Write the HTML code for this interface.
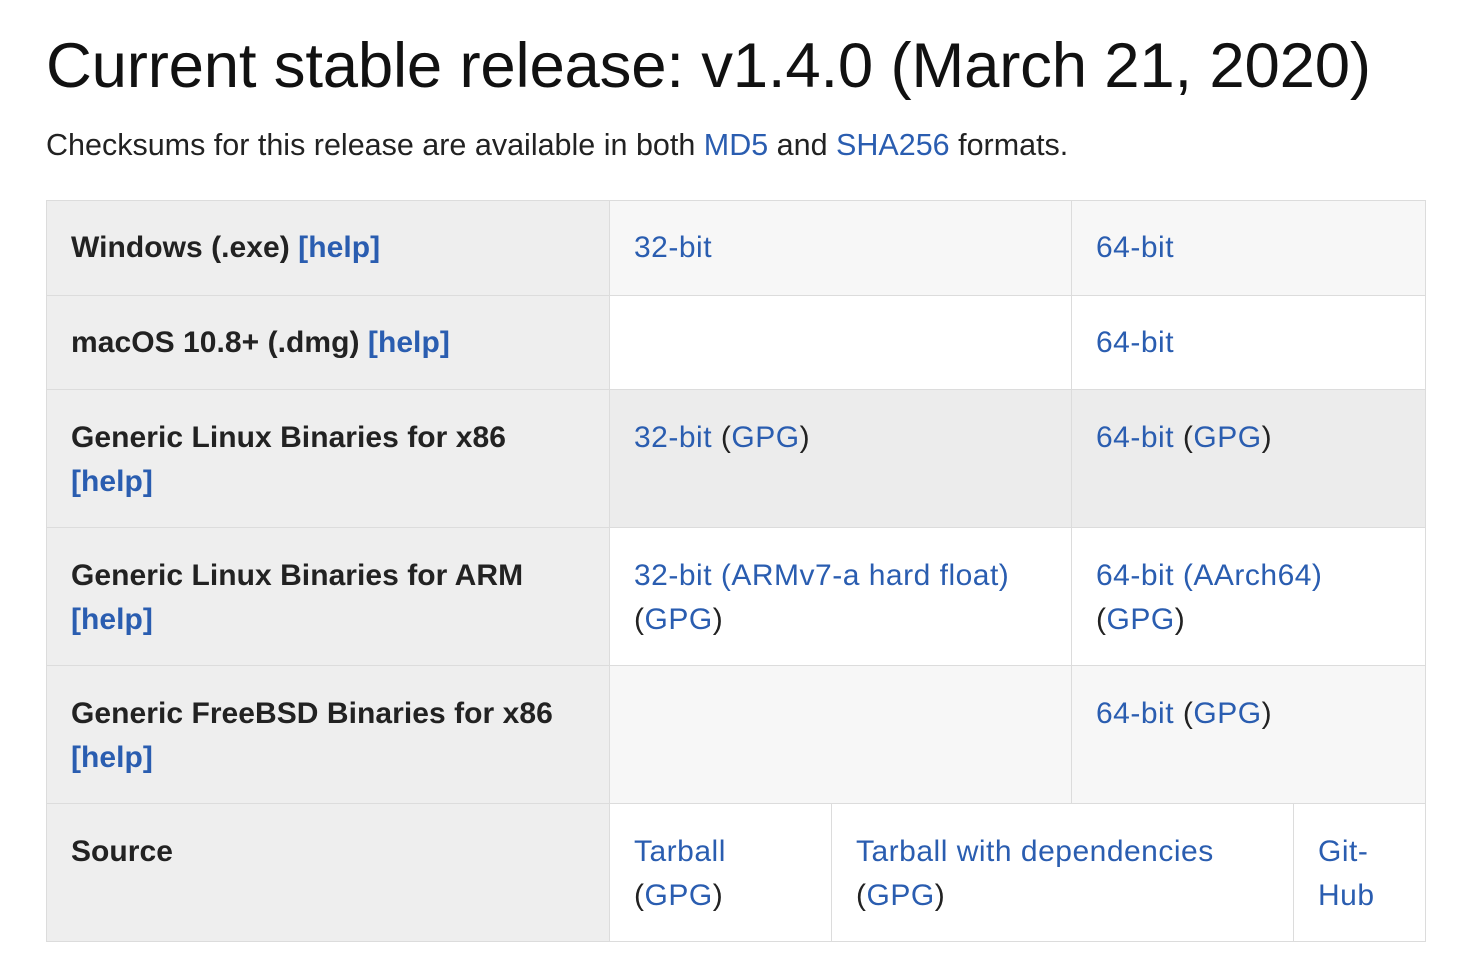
<!DOCTYPE html>
<html><head><meta charset="utf-8"><style>
html,body{margin:0;padding:0;background:#fff;width:1474px;height:980px;overflow:hidden}
body{font-family:"Liberation Sans",Arial,sans-serif;color:#111}
h1{position:absolute;left:46px;top:22px;margin:0;font-weight:normal;font-size:63.5px;letter-spacing:-0.2px;white-space:nowrap;line-height:88px}
p{position:absolute;left:46px;top:124px;margin:0;font-size:30.5px;line-height:42px;color:#222;white-space:nowrap;letter-spacing:0px}
a{color:#2a5db0;text-decoration:none}
.c{position:absolute;box-sizing:border-box;border:1px solid #dcdcdc;font-size:30px;line-height:44px;padding:25px 20px 0 24px;letter-spacing:0.5px;color:#222;white-space:nowrap}
.h{background:#eeeeee;font-weight:bold;color:#222;letter-spacing:0.05px}
.h a{color:#2a5db0}
</style></head><body>
<h1>Current stable release: v1.4.0 (March 21, 2020)</h1>
<p>Checksums for this release are available in both <a>MD5</a> and <a>SHA256</a> formats.</p>

<div class="c h" style="left:46px;top:200px;width:564px;height:96px">Windows (.exe) <a>[help]</a></div>
<div class="c" style="left:609px;top:200px;width:463px;height:96px;background:#f7f7f7"><a>32-bit</a></div>
<div class="c" style="left:1071px;top:200px;width:355px;height:96px;background:#f7f7f7"><a>64-bit</a></div>

<div class="c h" style="left:46px;top:295px;width:564px;height:95px">macOS 10.8+ (.dmg) <a>[help]</a></div>
<div class="c" style="left:609px;top:295px;width:463px;height:95px;background:#fff"></div>
<div class="c" style="left:1071px;top:295px;width:355px;height:95px;background:#fff"><a>64-bit</a></div>

<div class="c h" style="left:46px;top:389px;width:564px;height:139px;padding-top:26px">Generic Linux Binaries for x86<br><a>[help]</a></div>
<div class="c" style="left:609px;top:389px;width:463px;height:139px;background:#ececec;padding-top:26px"><a>32-bit</a> (<a>GPG</a>)</div>
<div class="c" style="left:1071px;top:389px;width:355px;height:139px;background:#ececec;padding-top:26px"><a>64-bit</a> (<a>GPG</a>)</div>

<div class="c h" style="left:46px;top:527px;width:564px;height:139px;padding-top:26px">Generic Linux Binaries for ARM<br><a>[help]</a></div>
<div class="c" style="left:609px;top:527px;width:463px;height:139px;background:#fff;padding-top:26px"><a>32-bit (ARMv7-a hard float)</a><br>(<a>GPG</a>)</div>
<div class="c" style="left:1071px;top:527px;width:355px;height:139px;background:#fff;padding-top:26px"><a>64-bit (AArch64)</a><br>(<a>GPG</a>)</div>

<div class="c h" style="left:46px;top:665px;width:564px;height:139px;padding-top:26px">Generic FreeBSD Binaries for x86<br><a>[help]</a></div>
<div class="c" style="left:609px;top:665px;width:463px;height:139px;background:#f7f7f7"></div>
<div class="c" style="left:1071px;top:665px;width:355px;height:139px;background:#f7f7f7;padding-top:26px"><a>64-bit</a> (<a>GPG</a>)</div>

<div class="c h" style="left:46px;top:803px;width:564px;height:139px;padding-top:26px">Source</div>
<div class="c" style="left:609px;top:803px;width:223px;height:139px;background:#fff;padding-top:26px"><a>Tarball</a><br>(<a>GPG</a>)</div>
<div class="c" style="left:831px;top:803px;width:463px;height:139px;background:#fff;padding-top:26px"><a>Tarball with dependencies</a><br>(<a>GPG</a>)</div>
<div class="c" style="left:1293px;top:803px;width:133px;height:139px;background:#fff;padding-top:26px"><a>Git-<br>Hub</a></div>
</body></html>
